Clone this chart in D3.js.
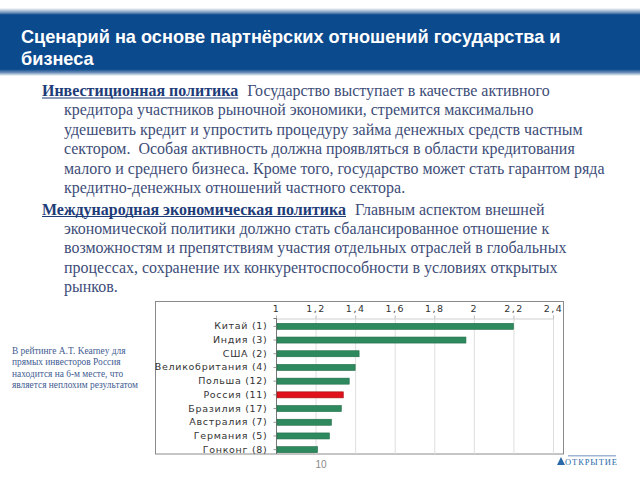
<!DOCTYPE html>
<html><head><meta charset="utf-8">
<script src="https://cdn.jsdelivr.net/npm/d3@7"></script>
<style>body{margin:0;background:#fff}svg{display:block}</style>
</head><body>
<svg id="c" width="640" height="480"></svg>
<script>
const titleLines = ["Сценарий на основе партнёрских отношений государства и", "бизнеса"];
const para1Head = "Инвестиционная политика";
const para1Lines = ["Государство выступает в качестве активного",
  "кредитора участников рыночной экономики, стремится максимально",
  "удешевить кредит и упростить процедуру займа денежных средств частным",
  "сектором.  Особая активность должна проявляться в области кредитования",
  "малого и среднего бизнеса. Кроме того, государство может стать гарантом ряда",
  "кредитно-денежных отношений частного сектора."];
const para2Head = "Международная экономическая политика";
const para2Lines = ["Главным аспектом внешней",
  "экономической политики должно стать сбалансированное отношение к",
  "возможностям и препятствиям участия отдельных отраслей в глобальных",
  "процессах, сохранение их конкурентоспособности в условиях открытых",
  "рынков."];
const noteLines = ["В рейтинге A.T. Kearney для", "прямых инвесторов Россия",
  "находится на 6-м месте, что", "является неплохим результатом"];
const categories = ["Китай (1)", "Индия (3)", "США (2)", "Великобритания (4)", "Польша (12)",
  "Россия (11)", "Бразилия (17)", "Австралия (7)", "Германия (5)", "Гонконг (8)"];
const values = [2.20, 1.96, 1.42, 1.40, 1.37, 1.34, 1.33, 1.28, 1.27, 1.21];
const tickValues = [1, 1.2, 1.4, 1.6, 1.8, 2, 2.2, 2.4];
const tickLabels = ["1", "1,2", "1,4", "1,6", "1,8", "2", "2,2", "2,4"];
const highlight = "Россия (11)";
const pageNumber = "10";
const logoText = "ОТКРЫТИЕ";

const svg = d3.select("#c");
const defs = svg.append("defs");

const g = defs.append("linearGradient").attr("id", "band").attr("x1", 0).attr("y1", 0).attr("x2", 0).attr("y2", 1);
[[0, "#ffffff"], [0.07, "#6d8fb8"], [0.1, "#0c4a8e"], [0.9, "#0c4a8e"], [0.95, "#6d8fb8"], [1, "#ffffff"]]
  .forEach(([o, c]) => g.append("stop").attr("offset", o).attr("stop-color", c));
svg.append("rect").attr("x", 0).attr("y", 8).attr("width", 640).attr("height", 68).attr("fill", "url(#band)");

const tFont = "'Liberation Sans', Arial, sans-serif";
const t1 = svg.append("text").attr("x", 21).attr("y", 43).attr("fill", "#fff")
  .attr("font-family", tFont).attr("font-weight", "bold").attr("font-size", 17).text(titleLines[0]);
let w = t1.node().getComputedTextLength();
const tSize = 17 * 540 / w;
t1.attr("font-size", tSize);
svg.append("text").attr("x", 21).attr("y", 65).attr("fill", "#fff")
  .attr("font-family", tFont).attr("font-weight", "bold").attr("font-size", tSize).text(titleLines[1]);

const sFont = "'Liberation Serif', 'DejaVu Serif', serif";
const headColor = "#1e3c78", bodyColor = "#3d4d78";
const probe = svg.append("text").attr("font-family", sFont).attr("font-size", 15).text(para1Lines[4]);
const bSize = 15 * 541 / probe.node().getComputedTextLength();
probe.remove();
const lh = 19.4;

function para(head, lines, y0) {
  const h = svg.append("text").attr("x", 42).attr("y", y0).attr("fill", headColor)
    .attr("font-family", sFont).attr("font-weight", "bold").attr("font-size", bSize).text(head);
  const hw = h.node().getComputedTextLength();
  svg.append("line").attr("x1", 42).attr("x2", 42 + hw).attr("y1", y0 + 2).attr("y2", y0 + 2)
    .attr("stroke", headColor).attr("stroke-width", 1.2);
  lines.forEach((l, i) => {
    svg.append("text").attr("x", i === 0 ? 42 + hw + 9 : 64).attr("y", y0 + i * lh)
      .attr("fill", bodyColor).attr("font-family", sFont).attr("font-size", bSize)
      .style("white-space", "pre").text(l);
  });
}
para(para1Head, para1Lines, 96);
para(para2Head, para2Lines, 214.5);

noteLines.forEach((l, i) => {
  svg.append("text").attr("x", 12).attr("y", 354 + i * 11.3).attr("fill", "#3f5d92")
    .attr("font-family", sFont).attr("font-size", 9.4).text(l);
});

svg.append("rect").attr("x", 155.5).attr("y", 301.5).attr("width", 408).attr("height", 152.5)
  .attr("fill", "#fff").attr("stroke", "#8a8a8a");

const x = d3.scaleLinear().domain([1, 2.4]).range([276, 553]);
const y = d3.scaleBand().domain(categories).range([319.5, 456.5]).paddingInner(0.56).paddingOuter(0.28);
const cFont = "'DejaVu Sans', Verdana, sans-serif";

svg.append("g").selectAll("line").data(tickValues.slice(1)).join("line")
  .attr("x1", d => x(d) + 0.5).attr("x2", d => x(d) + 0.5).attr("y1", 318.5).attr("y2", 454)
  .attr("stroke", "#dedede");

const xAxis = d3.axisTop(x).tickValues(tickValues).tickFormat((d, i) => tickLabels[i]).tickSize(3).tickPadding(4);
const ax = svg.append("g").attr("transform", "translate(0,318.5)").call(xAxis);
ax.select(".domain").attr("stroke", "#cfcfcf");
ax.selectAll(".tick line").attr("stroke", "#bbb");
ax.selectAll(".tick text").attr("font-family", cFont).attr("font-size", 9.5).attr("fill", "#333")
  .style("letter-spacing", "1.5px");

const yAxis = d3.axisLeft(y).tickSize(3).tickPadding(6);
const ay = svg.append("g").attr("transform", "translate(276.5,0)").call(yAxis);
ay.select(".domain").attr("d", "M-3,318.5H0V454").attr("stroke", "#777");
ay.selectAll(".tick line").attr("stroke", "#999");
ay.selectAll(".tick text").attr("font-family", cFont).attr("font-size", 9.5).attr("fill", "#333")
  .style("letter-spacing", "0.7px");

svg.append("g").selectAll("rect").data(categories).join("rect")
  .attr("x", x(1) + 1).attr("y", d => y(d))
  .attr("width", (d, i) => x(values[i]) - x(1) - 1).attr("height", y.bandwidth())
  .attr("fill", d => d === highlight ? "#e0121b" : "#2e8a5e")
  .attr("stroke", d => d === highlight ? "#a00d12" : "#1f6a46").attr("stroke-width", 0.6);

svg.append("text").attr("x", 321).attr("y", 468).attr("text-anchor", "middle")
  .attr("font-family", tFont).attr("font-size", 10).attr("fill", "#8a8a8a").text(pageNumber);

svg.append("path").attr("d", "M557,465 L561,457 L565,465 Z").attr("fill", "#2a6aa8");
svg.append("rect").attr("x", 568).attr("y", 455).attr("width", 48).attr("height", 1.5).attr("fill", "#9fb4cf");
svg.append("text").attr("x", 565).attr("y", 465).attr("font-family", sFont).attr("font-size", 8.5)
  .attr("fill", "#2a6aa8").attr("textLength", 52).text(logoText);
</script>
</body></html>
